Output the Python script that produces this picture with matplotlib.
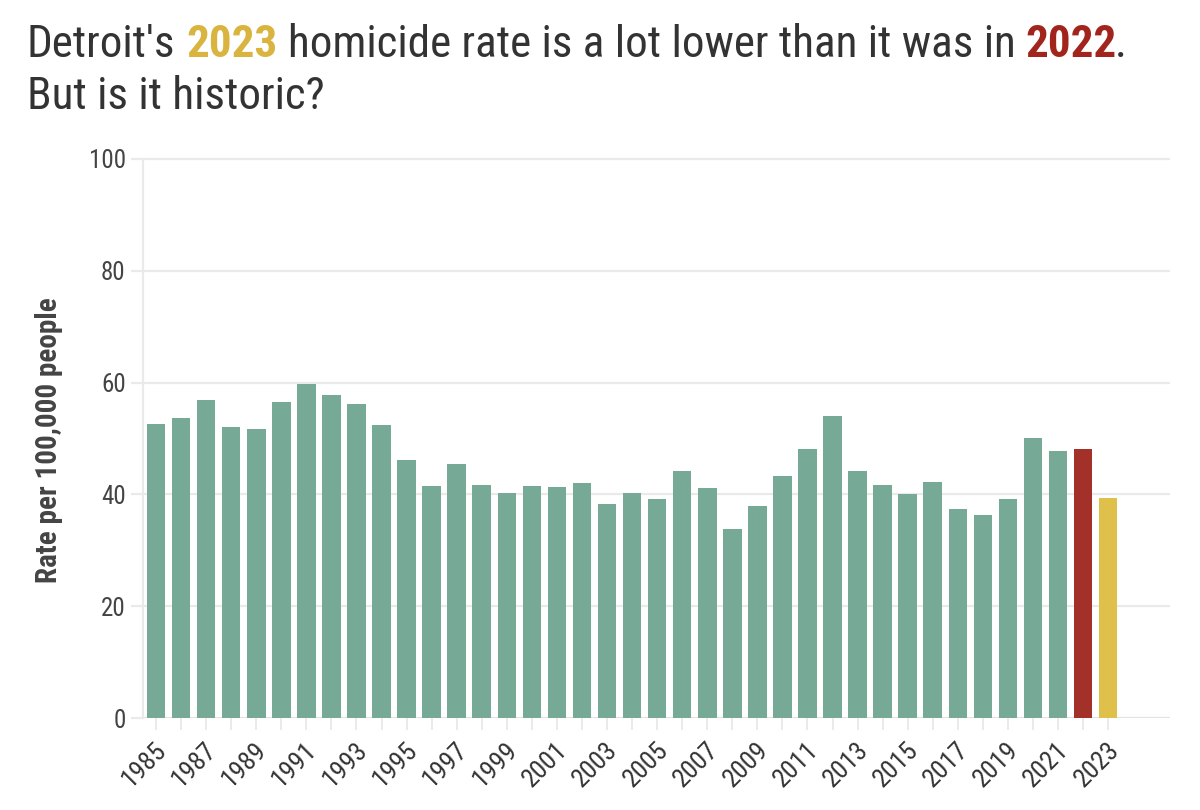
import matplotlib
matplotlib.use("Agg")
import matplotlib.pyplot as plt
from matplotlib import font_manager as fm
from matplotlib.transforms import ScaledTranslation

# ---------------- data ----------------
years = list(range(1985, 2024))
rates = [52.6, 53.7, 56.9, 52.1, 51.7, 56.5, 59.7, 57.8, 56.2, 52.5,
         46.1, 41.5, 45.5, 41.7, 40.2, 41.5, 41.4, 42.1, 38.3, 40.3,
         39.1, 44.1, 41.1, 33.8, 38.0, 43.3, 48.1, 54.0, 44.1, 41.6,
         40.1, 42.2, 37.4, 36.4, 39.2, 50.1, 47.8, 48.1, 39.4]
highlight = {2022: "#A3312A", 2023: "#DFC04B"}
base_color = "#76AA96"
yticks = [0, 20, 40, 60, 80, 100]
xtick_labels = [str(y) for y in range(1985, 2024, 2)]
ylabel = "Rate per 100,000 people"
title_parts = [("Detroit's", "#333333", "normal"), ("2023", "#D9B43E", "bold"),
               ("homicide rate is a lot lower than it was in", "#333333", "normal"),
               ("2022", "#A1251D", "bold")]
title_end = "."
title_line2 = "But is it historic?"

# ---------------- font ----------------
names = {f.name for f in fm.fontManager.ttflist}
family = "DejaVu Sans"
for cand in ["Roboto Condensed", "Barlow Semi Condensed", "Fira Sans Condensed",
             "Asap Condensed", "Encode Sans Semi Condensed", "Archivo Narrow"]:
    if cand in names:
        family = cand
        break
plt.rcParams["font.family"] = [family, "DejaVu Sans"]

grid_col = "#EAEAEA"
text_col = "#444444"

fig = plt.figure(figsize=(12, 8.1), dpi=100)
ax = fig.add_axes([143 / 1200, 1 - 718 / 810, 1027 / 1200, (718 - 153.4) / 810])

colors = [highlight.get(y, base_color) for y in years]
ax.bar(years, rates, width=0.74, color=colors, zorder=3)

ax.set_xlim(1984.48, 2025.47)
ax.set_ylim(0, 101)
ax.set_yticks(yticks)
ax.set_yticklabels([str(v) for v in yticks])
ax.grid(axis="y", color=grid_col, linewidth=1.6, zorder=0)
ax.set_axisbelow(True)

ax.set_xticks(years)
ax.set_xticklabels([str(y) if str(y) in xtick_labels else "" for y in years],
                   rotation=45, ha="right", va="center", rotation_mode="anchor")

for s in ["top", "right", "bottom"]:
    ax.spines[s].set_visible(False)
ax.spines["left"].set_color(grid_col)
ax.spines["left"].set_linewidth(1.6)
ax.spines["left"].set_bounds(0, 100)
ax.axhline(0, color="#E2E2E2", linewidth=1.8, zorder=1)

ax.tick_params(axis="y", length=8.5, width=1.6, color=grid_col, pad=4,
               labelsize=18, labelcolor=text_col)
ax.tick_params(axis="x", length=8.6, width=1.4, color=grid_col, pad=11.5,
               labelsize=19, labelcolor="#333333")
shift = ScaledTranslation(7 / 100, 0, fig.dpi_scale_trans)
for lab in ax.get_xticklabels():
    lab.set_transform(lab.get_transform() + shift)

ax.set_ylabel(ylabel, fontsize=21, fontweight="bold", color=text_col)
ax.yaxis.set_label_coords(-80 / 1027, (718 - 440) / (718 - 153.4))

# ---------------- title with coloured parts ----------------
fig.canvas.draw()
renderer = fig.canvas.get_renderer()
tsize = 32.5
def width_of(s, weight="normal"):
    t = fig.text(0, 0, s, fontsize=tsize, fontweight=weight)
    w = t.get_window_extent(renderer).width
    t.remove()
    return w
space_w = width_of("a a") - width_of("aa")

x = 27
y_base = 810 - 57
for i, (s, c, w) in enumerate(title_parts):
    t = fig.text(x / 1200, y_base / 810, s, fontsize=tsize, fontweight=w, color=c,
                 va="baseline", ha="left")
    x += t.get_window_extent(renderer).width
    if i < len(title_parts) - 1:
        x += space_w
fig.text((x - 2) / 1200, y_base / 810, title_end, fontsize=tsize, color="#333333",
         va="baseline", ha="left")
fig.text(27 / 1200, (810 - 109) / 810, title_line2, fontsize=tsize, color="#333333",
         va="baseline", ha="left")

fig.savefig("out.png", dpi=100, facecolor="white")
